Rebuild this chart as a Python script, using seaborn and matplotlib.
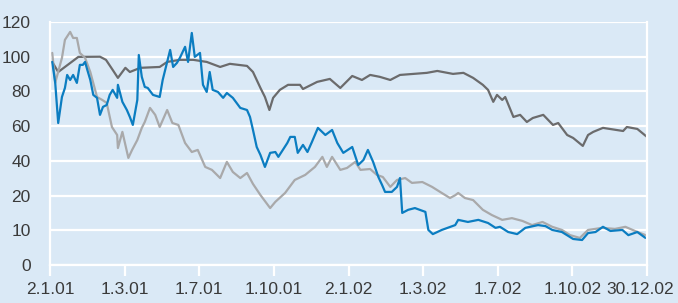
import numpy as np
import pandas as pd
import matplotlib
matplotlib.use('Agg')
import matplotlib.pyplot as plt
from matplotlib import font_manager
from matplotlib import transforms
import seaborn as sns

# == data (x in tick units: 0 = 2.1.01 ... 8 = 30.12.02)
tick_labels = ['2.1.01', '1.3.01', '1.7.01', '1.10.01', '2.1.02',
               '1.3.02', '1.7.02', '1.10.02', '30.12.02']
y_ticks = [0, 10, 20, 40, 60, 80, 100, 120]

dark_x = [0.03, 0.11, 0.38, 0.67, 0.75, 0.84, 0.91, 1.01, 1.07, 1.21, 1.47, 1.57,
          1.74, 1.92, 2.10, 2.28, 2.41, 2.64, 2.72, 2.82, 2.88, 2.94, 2.99, 3.08,
          3.19, 3.35, 3.39, 3.58, 3.75, 3.89, 4.05, 4.18, 4.29, 4.42, 4.56, 4.69,
          4.87, 5.05, 5.19, 5.40, 5.54, 5.67, 5.80, 5.87, 5.94, 5.99, 6.06, 6.10,
          6.21, 6.30, 6.39, 6.47, 6.61, 6.74, 6.81, 6.93, 7.01, 7.14, 7.21, 7.28,
          7.41, 7.68, 7.73, 7.87, 8.0]
dark_y = [97.0, 91.2, 99.9, 100.0, 98.2, 92.4, 87.8, 93.6, 91.2, 93.6, 94.1, 97.0,
          98.2, 98.2, 97.0, 94.1, 95.9, 94.7, 91.2, 82.0, 76.8, 69.3, 76.3, 80.9,
          83.8, 83.8, 81.4, 85.5, 87.2, 82.0, 88.9, 86.6, 89.5, 88.4, 86.6, 89.5,
          90.1, 90.7, 91.8, 90.1, 90.7, 87.8, 83.8, 80.9, 74.0, 78.0, 75.1, 76.8,
          65.3, 66.5, 62.4, 64.7, 66.5, 60.7, 61.8, 54.9, 53.2, 48.6, 54.9, 56.7,
          59.0, 57.2, 59.5, 58.4, 53.8]

light_x = [0.03, 0.07, 0.16, 0.20, 0.27, 0.31, 0.36, 0.40, 0.47, 0.54, 0.63, 0.70,
           0.76, 0.83, 0.90, 0.91, 0.97, 1.05, 1.10, 1.17, 1.23, 1.27, 1.34, 1.41,
           1.47, 1.57, 1.64, 1.72, 1.81, 1.90, 1.98, 2.08, 2.17, 2.28, 2.37, 2.45,
           2.55, 2.64, 2.72, 2.82, 2.95, 3.02, 3.15, 3.28, 3.42, 3.55, 3.65, 3.71,
           3.78, 3.89, 3.98, 4.09, 4.16, 4.29, 4.38, 4.46, 4.56, 4.65, 4.76, 4.85,
           4.99, 5.12, 5.25, 5.36, 5.43, 5.47, 5.56, 5.67, 5.80, 5.92, 6.06, 6.19,
           6.33, 6.46, 6.60, 6.73, 6.86, 6.97, 7.10, 7.21, 7.40, 7.57, 7.71, 7.84, 7.98]
light_y = [102.2, 85.0, 99.3, 109.7, 114.3, 110.8, 110.8, 102.2, 99.3, 91.2, 76.8, 75.1,
           73.4, 59.5, 54.9, 47.4, 56.7, 41.7, 46.3, 52.0, 59.0, 62.4, 70.5, 66.5,
           59.5, 69.3, 61.8, 60.7, 50.3, 45.1, 46.3, 36.5, 34.8, 30.1, 39.4, 33.6,
           30.1, 33.0, 26.7, 20.3, 16.4, 18.2, 21.5, 29.0, 31.9, 36.5, 42.3, 36.5,
           42.3, 34.8, 35.9, 39.4, 34.8, 35.3, 31.9, 30.7, 25.0, 29.0, 30.1, 27.3,
           27.8, 25.0, 21.5, 19.3, 20.2, 21.5, 19.3, 18.7, 15.9, 14.4, 13.0, 13.5,
           12.7, 11.5, 12.4, 11.0, 10.1, 8.6, 7.8, 10.1, 10.7, 10.4, 11.0, 9.8, 8.6]

blue_x = [0.03, 0.07, 0.11, 0.16, 0.20, 0.23, 0.27, 0.31, 0.36, 0.40, 0.44, 0.47,
          0.50, 0.54, 0.58, 0.63, 0.67, 0.71, 0.76, 0.80, 0.84, 0.90, 0.91, 0.97,
          1.03, 1.07, 1.11, 1.17, 1.19, 1.23, 1.27, 1.31, 1.38, 1.47, 1.51, 1.57,
          1.61, 1.65, 1.70, 1.74, 1.81, 1.85, 1.90, 1.94, 2.01, 2.05, 2.10, 2.14,
          2.18, 2.25, 2.32, 2.37, 2.45, 2.55, 2.64, 2.68, 2.72, 2.77, 2.82, 2.88,
          2.95, 3.02, 3.06, 3.12, 3.18, 3.22, 3.28, 3.32, 3.39, 3.45, 3.51, 3.59,
          3.69, 3.78, 3.85, 3.93, 4.05, 4.13, 4.20, 4.26, 4.33, 4.40, 4.45, 4.49,
          4.58, 4.65, 4.69, 4.72, 4.80, 4.89, 5.03, 5.07, 5.13, 5.25, 5.43, 5.47,
          5.60, 5.74, 5.87, 5.97, 6.03, 6.14, 6.26, 6.37, 6.54, 6.64, 6.73, 6.86,
          7.01, 7.13, 7.21, 7.31, 7.41, 7.51, 7.67, 7.75, 7.87, 7.98]
blue_y = [97.0, 84.9, 61.8, 76.8, 82.0, 89.5, 86.6, 89.5, 84.9, 95.3, 95.3, 97.0,
          92.4, 86.6, 78.0, 76.3, 66.5, 71.1, 72.2, 78.0, 80.9, 76.3, 83.8, 74.0,
          69.3, 65.3, 60.7, 75.1, 101.0, 88.4, 82.6, 82.0, 78.0, 76.8, 86.6, 97.0,
          103.9, 94.1, 96.4, 99.3, 105.7, 97.0, 113.7, 99.9, 102.2, 83.8, 79.7, 91.2,
          80.9, 79.7, 76.3, 79.1, 76.3, 70.5, 69.3, 65.3, 57.8, 48.0, 43.4, 36.5,
          44.6, 45.1, 42.3, 46.3, 50.3, 53.8, 53.8, 44.6, 49.2, 45.1, 50.9, 59.0,
          54.9, 57.8, 50.3, 44.6, 48.0, 37.6, 40.5, 46.3, 39.4, 30.7, 26.1, 22.1,
          22.1, 25.0, 30.1, 15.0, 15.9, 16.4, 15.3, 10.1, 8.9, 10.1, 11.5, 13.0,
          12.4, 13.0, 12.1, 10.7, 11.0, 9.5, 8.9, 10.7, 11.5, 11.2, 10.1, 9.5,
          7.5, 7.2, 9.2, 9.5, 11.0, 9.8, 10.1, 8.6, 9.5, 7.8]

bg = '#dae9f6'
sns.set_style("ticks", {'axes.facecolor': bg, 'figure.facecolor': bg})

# narrow font if there is one, else Liberation Sans a bit smaller
names = {f.name for f in font_manager.fontManager.ttflist}
fsize = 12.5
if 'Liberation Sans Narrow' in names:
    plt.rcParams['font.family'] = ['Liberation Sans Narrow', 'DejaVu Sans']
    fsize = 13.5
else:
    plt.rcParams['font.family'] = ['Liberation Sans', 'DejaVu Sans']
plt.rcParams['font.size'] = fsize


# y axis: 0-20 stretched (10 per step), above 20 it is 20 per step
def fwd(v):
    v = np.asarray(v, dtype=float)
    return np.where(v <= 20, v / 10., 2 + (v - 20) / 20.)


def inv(u):
    u = np.asarray(u, dtype=float)
    return np.where(u <= 2, u * 10., 20 + (u - 2) * 20.)


fig = plt.figure(figsize=(6.78, 3.03), dpi=100)
ax = fig.add_axes([50 / 678, 38 / 303, 597 / 678, 243 / 303])
ax.set_yscale('function', functions=(fwd, inv))

for xs, ys, c in [(dark_x, dark_y, '#6b6b6c'),
                  (light_x, light_y, '#a9a9aa'),
                  (blue_x, blue_y, '#0b7dc1')]:
    sns.lineplot(x=xs, y=ys, color=c, lw=1.6, sort=False, estimator=None, ax=ax)

ax.set_xlim(0, 8)
ax.set_ylim(0, 120)
ax.set_xticks(range(9))
ax.set_xticklabels(tick_labels)
ax.set_yticks(y_ticks)
ax.set_yticklabels([str(t) for t in y_ticks])
ax.yaxis.set_minor_locator(matplotlib.ticker.NullLocator())
ax.grid(axis='y', color='white', lw=1.6)
ax.set_axisbelow(True)
ax.tick_params(axis='x', direction='out', length=8, width=1.6, color='white',
               labelcolor='#3a3a3a', pad=4)
ax.tick_params(axis='y', length=0, labelcolor='#3a3a3a', pad=14)
for s in ['left', 'right', 'bottom']:
    ax.spines[s].set_color('white')
    ax.spines[s].set_linewidth(1.6)
ax.spines['top'].set_visible(False)

# last label sits on the figure edge, nudge it in a bit
last = ax.get_xticklabels()[-1]
last.set_transform(last.get_transform() +
                   transforms.ScaledTranslation(-5 / 72, 0, fig.dpi_scale_trans))

plt.savefig('out.png', dpi=100, facecolor=bg)
plt.close()
